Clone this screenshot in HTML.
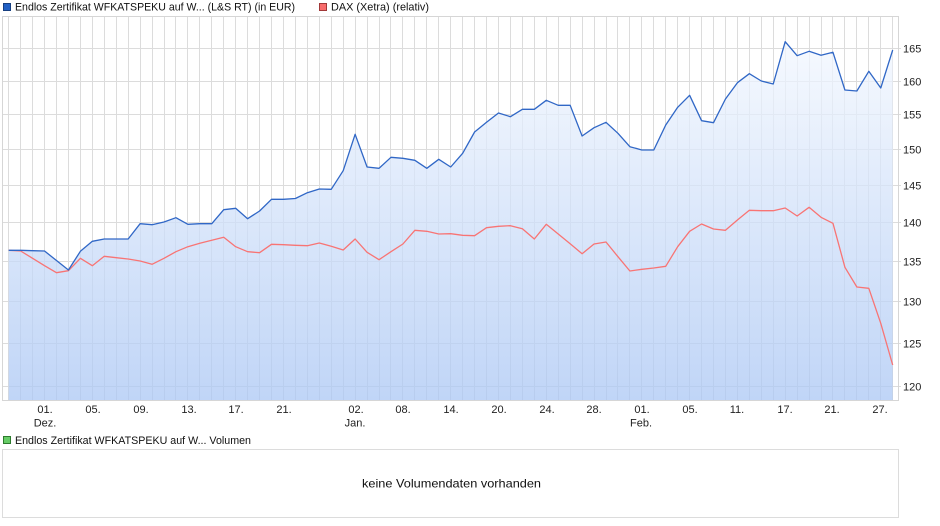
<!DOCTYPE html>
<html><head><meta charset="utf-8"><style>
html,body{margin:0;padding:0;background:#fff;}
svg{display:block;font-family:"Liberation Sans",Arial,sans-serif;}
</style></head><body>
<svg width="940" height="526" viewBox="0 0 940 526" xmlns="http://www.w3.org/2000/svg">
<defs>
<linearGradient id="g" gradientUnits="userSpaceOnUse" x1="0" y1="16" x2="0" y2="400">
<stop offset="0" stop-color="rgb(248,251,255)"/>
<stop offset="1" stop-color="rgb(171,199,244)"/>
</linearGradient>
</defs>
<!-- legend top -->
<rect x="3.5" y="3.5" width="7" height="7" fill="#2160c4" stroke="#173f80"/>
<text x="15" y="10.5" font-size="11" fill="#111" textLength="280" lengthAdjust="spacingAndGlyphs">Endlos Zertifikat WFKATSPEKU auf W... (L&amp;S RT) (in EUR)</text>
<rect x="319.5" y="3.5" width="7" height="7" fill="#f86c6c" stroke="#a03838"/>
<text x="331" y="10.5" font-size="11" fill="#111" textLength="98" lengthAdjust="spacingAndGlyphs">DAX (Xetra) (relativ)</text>

<!-- gridlines -->
<g stroke="#dcdcdc" stroke-width="1" fill="none">
<path d="M8.5 16V400M20.5 16V400M32.5 16V400M44.5 16V400M56.5 16V400M68.5 16V400M80.5 16V400M92.5 16V400M104.5 16V400M116.5 16V400M128.5 16V400M140.5 16V400M152.5 16V400M164.5 16V400M175.5 16V400M187.5 16V400M199.5 16V400M211.5 16V400M223.5 16V400M235.5 16V400M247.5 16V400M259.5 16V400M271.5 16V400M283.5 16V400M295.5 16V400M307.5 16V400M319.5 16V400M331.5 16V400M343.5 16V400M355.5 16V400M367.5 16V400M379.5 16V400M390.5 16V400M402.5 16V400M414.5 16V400M426.5 16V400M438.5 16V400M450.5 16V400M462.5 16V400M474.5 16V400M486.5 16V400M498.5 16V400M510.5 16V400M522.5 16V400M534.5 16V400M546.5 16V400M558.5 16V400M570.5 16V400M582.5 16V400M594.5 16V400M606.5 16V400M617.5 16V400M629.5 16V400M641.5 16V400M653.5 16V400M665.5 16V400M677.5 16V400M689.5 16V400M701.5 16V400M713.5 16V400M725.5 16V400M737.5 16V400M749.5 16V400M761.5 16V400M773.5 16V400M785.5 16V400M797.5 16V400M809.5 16V400M821.5 16V400M832.5 16V400M844.5 16V400M856.5 16V400M868.5 16V400M880.5 16V400M892.5 16V400"/>
<path d="M3 48.5H901M3 81.5H901M3 114.5H901M3 149.5H901M3 185.5H901M3 222.5H901M3 261.5H901M3 301.5H901M3 343.5H901M3 386.5H901"/>
</g>

<!-- area -->
<polygon fill="url(#g)" fill-opacity="0.75" points="8.7,400.5 8.7,250.3 20.65,250.3 32.59,250.7 44.54,251 56.48,260.5 68.43,270 80.38,251.3 92.32,241.3 104.27,239 116.21,239 128.16,239 140.11,223.7 152.05,224.7 164,222 175.94,217.7 187.89,224.3 199.84,223.7 211.78,223.7 223.73,209.7 235.67,208.3 247.62,218.7 259.57,211 271.51,199.3 283.46,199.3 295.4,198.5 307.35,192.7 319.3,189 331.24,189.3 343.19,170.7 355.13,134.3 367.08,167 379.03,168.3 390.97,157.3 402.92,158.3 414.86,160.3 426.81,168.3 438.76,159.3 450.7,167 462.65,153.3 474.59,132 486.54,122.3 498.49,113 510.43,116.7 522.38,109.3 534.32,109.3 546.27,100.3 558.22,105.3 570.16,105.3 582.11,136 594.05,127.7 606,122.3 617.95,133.3 629.89,146.7 641.84,150 653.78,150 665.73,125 677.68,107.3 689.62,95.3 701.57,120.7 713.51,122.7 725.46,99 737.41,82.7 749.35,73.7 761.3,81 773.24,84 785.19,41.7 797.14,55.7 809.08,51.3 821.03,55.3 832.97,52.3 844.92,90 856.87,91 868.81,71.3 880.76,88 892.7,50 892.7,400.5"/>

<!-- frame -->
<rect x="2.5" y="16.5" width="896" height="384" fill="none" stroke="#d6d6d6"/>

<!-- red series -->
<polyline fill="none" stroke="#f87474" stroke-width="1.3" stroke-linejoin="round" points="8.7,250.3 20.65,251 32.59,258.3 44.54,265.7 56.48,272.7 68.43,270.7 80.38,258.3 92.32,265.7 104.27,256.3 116.21,257.7 128.16,259 140.11,261 152.05,264.3 164,258.3 175.94,251.7 187.89,246.7 199.84,243.3 211.78,240.3 223.73,237.3 235.67,246.7 247.62,251.7 259.57,252.7 271.51,244.3 283.46,244.7 295.4,245.3 307.35,245.7 319.3,243 331.24,246.3 343.19,250 355.13,239 367.08,252.3 379.03,259.7 390.97,251.7 402.92,244 414.86,230.3 426.81,231.3 438.76,234 450.7,233.7 462.65,235.3 474.59,235.7 486.54,227.7 498.49,226.3 510.43,225.7 522.38,228.7 534.32,239 546.27,224.3 558.22,234 570.16,243.7 582.11,253.7 594.05,244 606,242 617.95,256.7 629.89,271 641.84,269.3 653.78,268 665.73,266.3 677.68,246.7 689.62,231.3 701.57,224 713.51,229 725.46,230.3 737.41,220 749.35,210.3 761.3,210.7 773.24,210.7 785.19,208 797.14,216 809.08,207.3 821.03,217.3 832.97,223.3 844.92,267.3 856.87,287 868.81,288.3 880.76,323.3 892.7,365"/>

<!-- blue series -->
<polyline fill="none" stroke="#3067c6" stroke-width="1.3" stroke-linejoin="round" points="8.7,250.3 20.65,250.3 32.59,250.7 44.54,251 56.48,260.5 68.43,270 80.38,251.3 92.32,241.3 104.27,239 116.21,239 128.16,239 140.11,223.7 152.05,224.7 164,222 175.94,217.7 187.89,224.3 199.84,223.7 211.78,223.7 223.73,209.7 235.67,208.3 247.62,218.7 259.57,211 271.51,199.3 283.46,199.3 295.4,198.5 307.35,192.7 319.3,189 331.24,189.3 343.19,170.7 355.13,134.3 367.08,167 379.03,168.3 390.97,157.3 402.92,158.3 414.86,160.3 426.81,168.3 438.76,159.3 450.7,167 462.65,153.3 474.59,132 486.54,122.3 498.49,113 510.43,116.7 522.38,109.3 534.32,109.3 546.27,100.3 558.22,105.3 570.16,105.3 582.11,136 594.05,127.7 606,122.3 617.95,133.3 629.89,146.7 641.84,150 653.78,150 665.73,125 677.68,107.3 689.62,95.3 701.57,120.7 713.51,122.7 725.46,99 737.41,82.7 749.35,73.7 761.3,81 773.24,84 785.19,41.7 797.14,55.7 809.08,51.3 821.03,55.3 832.97,52.3 844.92,90 856.87,91 868.81,71.3 880.76,88 892.7,50"/>

<!-- y labels -->
<g font-size="11" fill="#222">
<text x="903" y="52.5">165</text>
<text x="903" y="85.5">160</text>
<text x="903" y="118.5">155</text>
<text x="903" y="153.5">150</text>
<text x="903" y="189.5">145</text>
<text x="903" y="226.5">140</text>
<text x="903" y="265.5">135</text>
<text x="903" y="305.5">130</text>
<text x="903" y="347.5">125</text>
<text x="903" y="390.5">120</text>
</g>

<!-- x labels -->
<g font-size="11" fill="#222" text-anchor="middle">
<text x="45" y="413">01.</text><text x="45" y="426.5">Dez.</text>
<text x="93" y="413">05.</text>
<text x="141" y="413">09.</text>
<text x="189" y="413">13.</text>
<text x="236" y="413">17.</text>
<text x="284" y="413">21.</text>
<text x="356" y="413">02.</text><text x="355" y="426.5">Jan.</text>
<text x="403" y="413">08.</text>
<text x="451" y="413">14.</text>
<text x="499" y="413">20.</text>
<text x="547" y="413">24.</text>
<text x="594" y="413">28.</text>
<text x="642" y="413">01.</text><text x="641" y="426.5">Feb.</text>
<text x="690" y="413">05.</text>
<text x="737" y="413">11.</text>
<text x="785" y="413">17.</text>
<text x="832" y="413">21.</text>
<text x="880" y="413">27.</text>
</g>

<!-- volume legend & panel -->
<rect x="3.5" y="436.5" width="7" height="7" fill="#66cc66" stroke="#2d7a2d"/>
<text x="15" y="444" font-size="11" fill="#111" textLength="236" lengthAdjust="spacingAndGlyphs">Endlos Zertifikat WFKATSPEKU auf W... Volumen</text>
<rect x="2.5" y="449.5" width="896" height="68" fill="#fff" stroke="#dcdcdc"/>
<text x="362" y="487.5" font-size="12" fill="#111" textLength="179" lengthAdjust="spacingAndGlyphs">keine Volumendaten vorhanden</text>
</svg>
</body></html>
